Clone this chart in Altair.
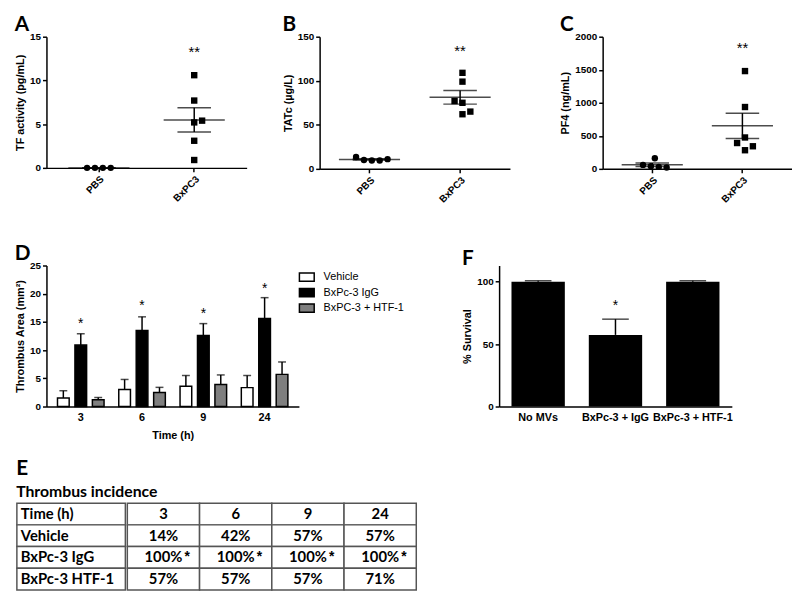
import altair as alt
import pandas as pd

# ---------------- Panel A: TF activity (pg/mL) ----------------
a_groups = ["PBS"] * 4 + ["BxPC3"] * 6
a_values = [0, 0, 0, 0, 10.6, 7.7, 5.2, 5.4, 3.1, 0.9]
a_slots = [-1.5, -0.5, 0.5, 1.5, 0, 0, 0, 1, 0, 0]
a_star = 13.2

# ---------------- Panel B: TATc (µg/L) ----------------
b_groups = ["PBS"] * 5 + ["BxPC3"] * 6
b_values = [13.5, 10.0, 9.5, 9.5, 11.0, 109, 99, 77, 75, 62, 65]
b_slots = [-2, -1, 0, 1, 2, 0, 0, -1, 0, 0, 1]
b_star = 134

# ---------------- Panel C: PF4 (ng/mL) ----------------
c_groups = ["PBS"] * 5 + ["BxPC3"] * 6
c_values = [160, 60, 40, 30, 20, 1480, 936, 475, 391, 282, 342]
c_slots = [0, -1.5, -0.5, 0.5, 1.5, 0, 0, 0, -1, 0, 1]
c_star = 1830

group_order = ["PBS", "BxPC3"]

# ---------------- Panel D: Thrombus area ----------------
d_times = ["3", "6", "9", "24"]
d_series = ["Vehicle", "BxPc-3 IgG", "BxPC-3 + HTF-1"]
d_vehicle = [1.5, 3.0, 3.6, 3.35]
d_vehicle_err = [1.3, 1.8, 1.9, 2.15]
d_igg = [10.9, 13.5, 12.6, 15.6]
d_igg_err = [2.0, 2.4, 2.1, 3.7]
d_htf = [1.2, 2.5, 3.9, 5.7]
d_htf_err = [0.4, 0.9, 1.7, 2.2]
d_star = [14.7, 17.8, 16.4, 20.8]
d_colors = ["white", "black", "#7f7f7f"]

# ---------------- Panel F: survival ----------------
f_groups = ["No MVs", "BxPc-3 + IgG", "BxPc-3 + HTF-1"]
f_values = [100, 57.4, 100]
f_err = [0.8, 12.6, 0.8]
f_star = 80.5

# ---------------- Panel E: table ----------------
t_rows = ["Time (h)", "Vehicle", "BxPc-3 IgG", "BxPc-3 HTF-1"]
t_cols = ["3", "6", "9", "24"]
t_vehicle = ["14%", "42%", "57%", "57%"]
t_igg = ["100%", "100%", "100%", "100%"]
t_igg_sig = ["*", "*", "*", "*"]
t_htf = ["57%", "57%", "57%", "71%"]

AX_FONT = "Liberation Sans"
LET_FONT = "Lato"


def letter(t):
    return alt.TitleParams(text=t, anchor="start", frame="bounds", fontSize=21,
                           font=LET_FONT, fontWeight="bold", color="black", offset=-3)


def dot_panel(lt, groups, values, slots, star_y, ytitle, ymax, ystep, width, height):
    df = pd.DataFrame({"group": groups, "value": values, "slot": slots})
    sdf = pd.DataFrame({"group": ["BxPC3"], "y": [star_y], "t": ["**"]})
    po = 0.05
    bw = width / (2 + 2 * po)
    xenc = alt.X("group:N", sort=group_order,
                 scale=alt.Scale(domain=group_order, paddingInner=0, paddingOuter=po),
                 axis=alt.Axis(title=None, labelAngle=-45, labelFontSize=10, labelPadding=2))
    yscale = alt.Scale(domain=[0, ymax], nice=False)
    yaxis = alt.Axis(title=ytitle, values=list(range(0, ymax + 1, ystep)), format="d")
    base = alt.Chart(df)
    pts = base.mark_point(filled=True, color="black", size=42, opacity=1).encode(
        x=xenc,
        xOffset=alt.XOffset("slot:Q", scale=alt.Scale(domain=[-4, 4], range=[bw / 2 - 32, bw / 2 + 32])),
        y=alt.Y("value:Q", scale=yscale, axis=yaxis),
        shape=alt.Shape("group:N", scale=alt.Scale(domain=group_order, range=["circle", "square"]), legend=None),
    )
    stats = base.transform_aggregate(
        mean="mean(value)", sem="stderr(value)", groupby=["group"]
    ).transform_calculate(lo="datum.mean - datum.sem", hi="datum.mean + datum.sem")
    rule = stats.mark_rule(color="black", strokeWidth=1.5).encode(
        x=xenc, y=alt.Y("lo:Q", scale=yscale, axis=yaxis), y2="hi:Q")
    mtick = stats.mark_tick(color="black", thickness=1.5, size=62).encode(
        x=xenc, y=alt.Y("mean:Q", scale=yscale, axis=yaxis))
    lotick = stats.mark_tick(color="black", thickness=1.5, size=34).encode(
        x=xenc, y=alt.Y("lo:Q", scale=yscale, axis=yaxis))
    hitick = stats.mark_tick(color="black", thickness=1.5, size=34).encode(
        x=xenc, y=alt.Y("hi:Q", scale=yscale, axis=yaxis))
    star = alt.Chart(sdf).mark_text(fontSize=15, color="black", baseline="middle").encode(
        x=xenc, y=alt.Y("y:Q", scale=yscale, axis=yaxis), text="t:N")
    return alt.layer(pts, rule, mtick, lotick, hitick, star).properties(
        width=width, height=height, title=letter(lt))


A = dot_panel("A", a_groups, a_values, a_slots, a_star, "TF activity (pg/mL)", 15, 5, 203, 133)
B = dot_panel("B", b_groups, b_values, b_slots, b_star, "TATc (\u00b5g/L)", 150, 50, 193, 134)
C = dot_panel("C", c_groups, c_values, c_slots, c_star, "PF4 (ng/mL)", 2000, 500, 192, 134)

# ---------------- Panel D chart ----------------
rows = []
for i, t in enumerate(d_times):
    for s, v, e in zip(d_series, [d_vehicle[i], d_igg[i], d_htf[i]],
                       [d_vehicle_err[i], d_igg_err[i], d_htf_err[i]]):
        rows.append({"time": t, "series": s, "value": v, "top": v + e})
ddf = pd.DataFrame(rows)
dstar = pd.DataFrame({"time": d_times, "series": ["BxPc-3 IgG"] * 4, "y": d_star, "t": ["*"] * 4})

D_W, D_H = 256, 143
dx = alt.X("time:N", sort=d_times, scale=alt.Scale(domain=d_times, paddingInner=0.24, paddingOuter=0.18),
           axis=alt.Axis(title="Time (h)", labelAngle=0, ticks=False, labelFontSize=11,
                         labelPadding=5, titlePadding=7))
dxo = alt.XOffset("series:N", sort=d_series, scale=alt.Scale(domain=d_series, paddingInner=0.33, paddingOuter=0))
dys = alt.Scale(domain=[0, 25], nice=False)
dya = alt.Axis(title="Thrombus Area (mm\u00b2)", values=[0, 5, 10, 15, 20, 25])
fill_scale = alt.Scale(domain=d_series, range=d_colors)
dbase = alt.Chart(ddf)
d_err = dbase.mark_rule(color="black", strokeWidth=1.5).encode(
    x=dx, xOffset=dxo, y=alt.Y("value:Q", scale=dys, axis=dya), y2="top:Q")
d_cap = dbase.mark_tick(color="black", thickness=1.5, size=8).encode(
    x=dx, xOffset=dxo, y=alt.Y("top:Q", scale=dys, axis=dya))
d_bar = dbase.mark_bar(stroke="black", strokeWidth=1.5).encode(
    x=dx, xOffset=dxo, y=alt.Y("value:Q", scale=dys, axis=dya),
    fill=alt.Fill("series:N", sort=d_series, scale=fill_scale, legend=None))
d_st = alt.Chart(dstar).mark_text(fontSize=14, color="black", baseline="middle").encode(
    x=dx, xOffset=dxo, y=alt.Y("y:Q", scale=dys, axis=dya), text="t:N")
d_main = alt.layer(d_err, d_cap, d_bar, d_st)

# key for D, drawn beside the plot through its own scales
leg_df = pd.DataFrame({"series": d_series, "k": ["key"] * 3})
lx_scale = alt.Scale(domain=["key"], range=[D_W, D_W + 16], paddingInner=0, paddingOuter=0)
ly = alt.Y("series:N", sort=d_series,
           scale=alt.Scale(domain=d_series, range=[4, 51], paddingInner=0, paddingOuter=0), axis=None)
leg_sym = alt.Chart(leg_df).mark_point(
    shape="M-1,-0.55H1V0.55H-1Z", size=225, filled=True, stroke="black", strokeWidth=1.5, opacity=1
).encode(
    x=alt.X("k:N", axis=None, scale=lx_scale),
    y=ly, fill=alt.Fill("series:N", sort=d_series, scale=fill_scale, legend=None))
leg_txt = alt.Chart(leg_df).mark_text(align="left", dx=17, fontSize=11, font=AX_FONT,
                                      color="black", baseline="middle").encode(
    x=alt.X("k:N", axis=None, scale=lx_scale), y=ly, text="series:N")
d_key = alt.layer(leg_sym, leg_txt)

D = alt.layer(d_main, d_key).resolve_scale(x="independent", y="independent").properties(
    width=D_W, height=D_H, title=letter("D"))

# ---------------- Panel F chart ----------------
fdf = pd.DataFrame({"group": f_groups, "value": f_values,
                    "top": [v + e for v, e in zip(f_values, f_err)]})
fstar = pd.DataFrame({"group": ["BxPc-3 + IgG"], "y": [f_star], "t": ["*"]})
fx = alt.X("group:N", sort=f_groups, scale=alt.Scale(domain=f_groups, paddingInner=0.31, paddingOuter=0.16),
           axis=alt.Axis(title=None, labelAngle=0, ticks=False, labelFontSize=11, labelPadding=5))
fys = alt.Scale(domain=[0, 113], nice=False)
fya = alt.Axis(title="% Survival", values=[0, 50, 100])
fbase = alt.Chart(fdf)
f_err_r = fbase.mark_rule(color="black", strokeWidth=1.5).encode(
    x=fx, y=alt.Y("value:Q", scale=fys, axis=fya), y2="top:Q")
f_cap = fbase.mark_tick(color="black", thickness=1.5, size=27).encode(
    x=fx, y=alt.Y("top:Q", scale=fys, axis=fya))
f_bar = fbase.mark_bar(color="black").encode(
    x=fx, y=alt.Y("value:Q", scale=fys, axis=fya))
f_st = alt.Chart(fstar).mark_text(fontSize=14, color="black", baseline="middle").encode(
    x=fx, y=alt.Y("y:Q", scale=fys, axis=fya), text="t:N")
F = alt.layer(f_err_r, f_cap, f_bar, f_st).properties(width=236, height=143, title=letter("F"))

# ---------------- Panel E table ----------------
lab_df = pd.DataFrame({"row": t_rows, "col": ["label"] * 4, "t": t_rows})
vals = []
for i, c in enumerate(t_cols):
    vals.append({"row": "Time (h)", "col": c, "t": c, "sig": ""})
    vals.append({"row": "Vehicle", "col": c, "t": t_vehicle[i], "sig": ""})
    vals.append({"row": "BxPc-3 IgG", "col": c, "t": t_igg[i], "sig": t_igg_sig[i]})
    vals.append({"row": "BxPc-3 HTF-1", "col": c, "t": t_htf[i], "sig": ""})
val_df = pd.DataFrame(vals)

ty = alt.Y("row:N", sort=t_rows, scale=alt.Scale(domain=t_rows, paddingInner=0, paddingOuter=0), axis=None)
cell_style = dict(fill="white", stroke="#555555", strokeWidth=1.5)
txt_style = dict(font=LET_FONT, fontSize=15, fontWeight="bold", color="black", baseline="middle")

# first column starts to the left of the panels' plot origin, as in the figure
lab_scale = alt.Scale(range=[-30, 80], paddingInner=0, paddingOuter=0)
lab_chart = alt.layer(
    alt.Chart(lab_df).mark_rect(**cell_style).encode(x=alt.X("col:N", scale=lab_scale, axis=None), y=ty),
    alt.Chart(lab_df).mark_text(align="left", dx=-51, **txt_style).encode(
        x=alt.X("col:N", scale=lab_scale, axis=None), y=ty, text="t:N"),
).properties(width=80, height=88)

vx = alt.X("col:N", sort=t_cols, scale=alt.Scale(domain=t_cols, paddingInner=0, paddingOuter=0), axis=None)
val_chart = alt.layer(
    alt.Chart(val_df).mark_rect(**cell_style).encode(x=vx, y=ty),
    alt.Chart(val_df).mark_text(align="center", **txt_style).encode(x=vx, y=ty, text="t:N"),
    alt.Chart(val_df).mark_text(align="center", dx=24, dy=0, font=AX_FONT, fontSize=14,
                                fontWeight="bold", color="black", baseline="middle").encode(
        x=vx, y=ty, text="sig:N"),
).properties(width=293, height=88)

E = alt.hconcat(lab_chart, val_chart, spacing=0).properties(
    title=alt.TitleParams(text="E", subtitle="Thrombus incidence", anchor="start", frame="bounds",
                          fontSize=21, font=LET_FONT, fontWeight="bold", color="black",
                          subtitleFont=LET_FONT, subtitleFontSize=16, subtitleFontWeight="bold",
                          subtitleColor="black", subtitlePadding=5, offset=3))

top = alt.hconcat(alt.hconcat(A, B, spacing=36), C, spacing=50)
mid = alt.hconcat(D, F, spacing=58)
upper = alt.vconcat(top, mid, spacing=39)

chart = alt.vconcat(upper, E, spacing=18).properties(
    padding={"left": 6, "top": 2, "right": 0, "bottom": 0}
).configure(font=AX_FONT).configure_view(stroke=None).configure_axis(
    domainColor="black", domainWidth=1.5, tickColor="black", tickWidth=1.5, tickSize=4,
    labelFont=AX_FONT, labelFontWeight="bold", labelFontSize=10, labelColor="black",
    titleFont=AX_FONT, titleFontWeight="bold", titleFontSize=11, titleColor="black",
    grid=False
)

chart.save("out.html", embed_options={"renderer": "svg", "actions": False})
